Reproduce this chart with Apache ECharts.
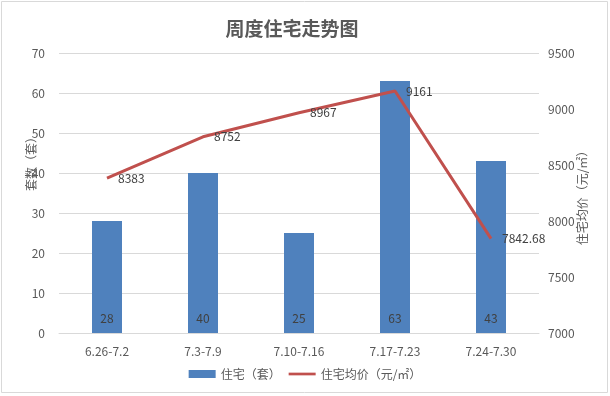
<!DOCTYPE html>
<html><head><meta charset="utf-8">
<script src="https://cdn.jsdelivr.net/npm/echarts@6/dist/echarts.min.js"></script>
<style>html,body{margin:0;padding:0;background:#fff}#c{width:610px;height:396px}</style>
</head><body><div id="c"></div>
<script>
const categories = ['6.26-7.2','7.3-7.9','7.10-7.16','7.17-7.23','7.24-7.30'];
const units = [28, 40, 25, 63, 43];
const prices = [8383, 8752, 8967, 9161, 7842.68];
const leftTicks = {min:0, max:70, interval:10};
const rightTicks = {min:7000, max:9500, interval:500};

const font = '"Microsoft YaHei","Noto Sans CJK SC",sans-serif';
const chart = echarts.init(document.getElementById('c'));
chart.setOption({
  animation:false,
  textStyle:{fontFamily:font},
  title:{text:'周度住宅走势图', left:287, top:14, textAlign:'center',
    textStyle:{fontSize:19, fontWeight:'bold', color:'#595959', fontFamily:font}},
  grid:{left:59, right:71, top:53, bottom:63},
  legend:{bottom:11, left:'center', itemGap:8, itemWidth:27, itemHeight:8,
    textStyle:{color:'#595959', fontSize:12},
    data:[{name:'住宅（套）', icon:'rect'}, {name:'住宅均价（元/㎡）', icon:'path://M0,0H30V3H0Z'}]},
  xAxis:{type:'category', data:categories,
    axisLine:{lineStyle:{color:'#d9d9d9'}}, axisTick:{show:false},
    axisLabel:{color:'#595959', fontSize:12, margin:12}},
  yAxis:[
    {type:'value', min:leftTicks.min, max:leftTicks.max, interval:leftTicks.interval,
     axisLabel:{color:'#595959', fontSize:12, margin:14},
     splitLine:{lineStyle:{color:'#d9d9d9'}}, axisLine:{show:false}, axisTick:{show:false}},
    {type:'value', min:rightTicks.min, max:rightTicks.max, interval:rightTicks.interval,
     position:'right',
     axisLabel:{color:'#595959', fontSize:12, margin:9, formatter:v=>String(v)},
     splitLine:{show:false}, axisLine:{show:false}, axisTick:{show:false}}
  ],
  series:[
    {name:'住宅（套）', type:'bar', data:units, barWidth:30, yAxisIndex:0,
     itemStyle:{color:'#4F81BD'},
     label:{show:true, position:'insideBottom', distance:9, color:'#404040', fontSize:12}},
    {name:'住宅均价（元/㎡）', type:'line', data:prices, yAxisIndex:1,
     symbol:'circle', symbolSize:0.1, showSymbol:true,
     lineStyle:{color:'#C0504D', width:3}, itemStyle:{color:'#C0504D'},
     label:{show:true, position:'right', distance:11, color:'#404040', fontSize:12}}
  ],
  graphic:[
    {type:'rect', shape:{x:1.5, y:1.5, width:606, height:391}, style:{fill:'none', stroke:'#d9d9d9', lineWidth:1}, silent:true},
    {type:'text', x:31, y:161, rotation:Math.PI/2, style:{text:'套数（套）', fill:'#595959', font:'12px '+font, align:'center', verticalAlign:'middle'}},
    {type:'text', x:582, y:195, rotation:Math.PI/2, style:{text:'住宅均价（元/㎡）', fill:'#595959', font:'12px '+font, align:'center', verticalAlign:'middle'}}
  ]
});
</script></body></html>
